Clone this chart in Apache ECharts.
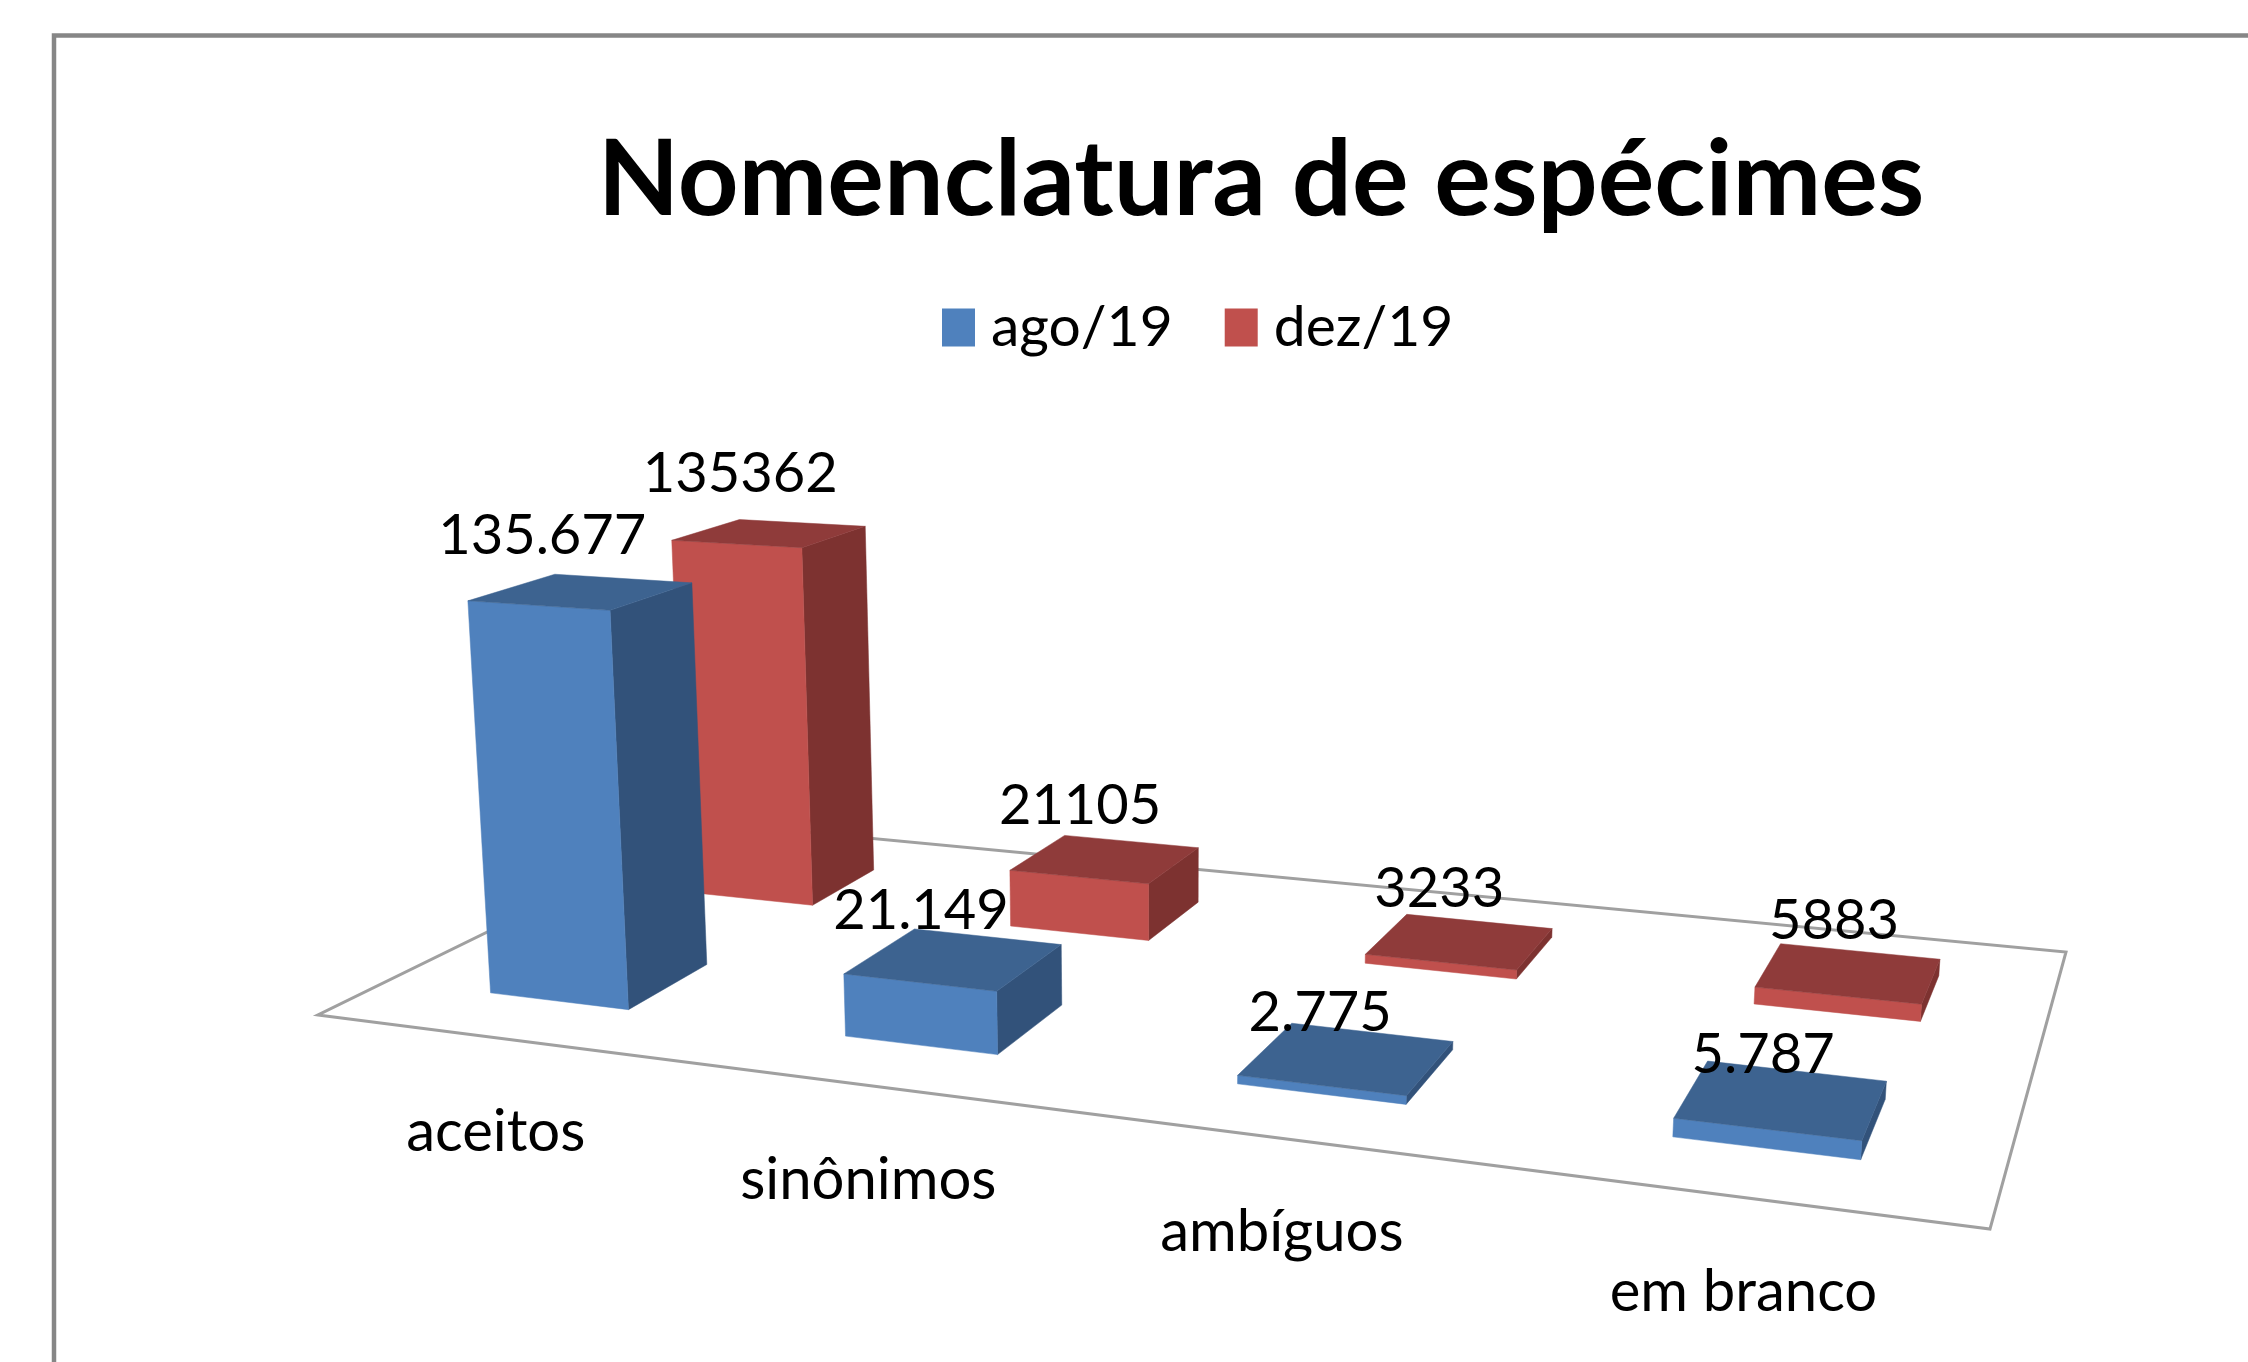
<!DOCTYPE html>
<html>
<head>
<meta charset="utf-8">
<style>
	html, body { margin: 0; padding: 0; background: #fff; overflow: hidden; }
	#bar { width: 2248px; height: 1362px; }
</style>
<script src="https://cdn.jsdelivr.net/npm/echarts@6/dist/echarts.min.js"></script>
</head>
<body>
<div id="bar"></div>
<script>
const categories = ['aceitos', 'sinônimos', 'ambíguos', 'em branco']
const seriesNames = ['ago/19', 'dez/19']
const ago = [135677, 21149, 2775, 5787]
const dez = [135362, 21105, 3233, 5883]
const yMax = 140000

// picture of the floor in the page, the chart is a tilted 3d one
const floorQuad = [[318, 1015], [1990, 1229], [2066, 952], [710, 823]]
const upVanish = [1163, 12617]
const upScale = -0.0344

const bandWidth = 0.4
const blueShift = 0.0015
const redShift = 0.0035
const blueDepth = [0.15, 0.35]
const redDepth = [0.645, 0.84]

const blueFaces = { front: '#4f81bd', side: '#32527a', top: '#3d6390' }
const redFaces = { front: '#c0504d', side: '#7d3230', top: '#8f3b3a' }
const labelFont = '56px Lato'
const categoryFont = '58px Lato'

// square to quad homography
function makeFloor(q) {
	let dx1 = q[1][0] - q[2][0], dx2 = q[3][0] - q[2][0], sx = q[0][0] - q[1][0] + q[2][0] - q[3][0]
	let dy1 = q[1][1] - q[2][1], dy2 = q[3][1] - q[2][1], sy = q[0][1] - q[1][1] + q[2][1] - q[3][1]
	let det = dx1 * dy2 - dx2 * dy1
	let g = (sx * dy2 - dx2 * sy) / det
	let h = (dx1 * sy - sx * dy1) / det
	return {
		a: q[1][0] - q[0][0] + g * q[1][0], b: q[3][0] - q[0][0] + h * q[3][0], c: q[0][0],
		d: q[1][1] - q[0][1] + g * q[1][1], e: q[3][1] - q[0][1] + h * q[3][1], f: q[0][1],
		g: g, h: h
	}
}
const floor = makeFloor(floorQuad)

// s along the categories 0..1, t into the depth 0..1, up is value / axis max
function project(s, t, up) {
	let q = up * upScale
	let w = floor.g * s + floor.h * t + 1 + q
	return [
		(floor.a * s + floor.b * t + floor.c + q * upVanish[0]) / w,
		(floor.d * s + floor.e * t + floor.f + q * upVanish[1]) / w
	]
}

function renderFloor(params, api) {
	let sys = params.coordSys
	let i = api.value(0)
	let pt = api.coord([i, 0])
	let s = (pt[0] - sys.x) / sys.width
	let p = project(s, 0, 0)
	let children = [{
		type: 'text',
		x: p[0] + 5,
		y: p[1] + 95,
		style: { text: categories[i], font: categoryFont, fill: '#000', align: 'center', verticalAlign: 'middle' }
	}]
	if (params.dataIndex === 0) {
		children.push({
			type: 'polygon',
			shape: { points: [project(0, 0, 0), project(1, 0, 0), project(1, 1, 0), project(0, 1, 0)] },
			style: { fill: 'none', stroke: '#a0a0a0', lineWidth: 3 }
		})
	}
	return { type: 'group', children: children }
}

function makeRender(depth, shift, faces, formatLabel) {
	return function (params, api) {
		let sys = params.coordSys
		let i = api.value(0)
		let v = api.value(1)
		let base = api.coord([i, 0])
		let top = api.coord([i, v])
		let band = api.size([1, 0])[0] * bandWidth
		let s0 = (base[0] - band / 2 - sys.x) / sys.width + shift
		let s1 = (base[0] + band / 2 - sys.x) / sys.width + shift
		let up = (base[1] - top[1]) / sys.height
		let t0 = depth[0], t1 = depth[1]
		let poly = (points, fill) => ({ type: 'polygon', shape: { points: points }, style: { fill: fill, stroke: fill, lineWidth: 0.5 } })
		let anchor = project((s0 + s1) / 2, t0, up)
		return {
			type: 'group',
			children: [
				poly([project(s1, t0, 0), project(s1, t1, 0), project(s1, t1, up), project(s1, t0, up)], faces.side),
				poly([project(s0, t0, 0), project(s1, t0, 0), project(s1, t0, up), project(s0, t0, up)], faces.front),
				poly([project(s0, t0, up), project(s1, t0, up), project(s1, t1, up), project(s0, t1, up)], faces.top),
				{
					type: 'text',
					z2: 100,
					x: anchor[0] + 4 - 2.5 * i,
					y: anchor[1] - 70 - 1.4 * i,
					style: { text: formatLabel(v), font: labelFont, fill: '#000', align: 'center', verticalAlign: 'middle' }
				}
			]
		}
	}
}

let myChart = echarts.init(document.getElementById('bar'))
let option = {
	animation: false,
	backgroundColor: '#fff',
	title: {
		text: 'Nomenclatura de espécimes',
		left: 1261,
		top: 128,
		padding: 0,
		textAlign: 'center',
		textStyle: { fontFamily: 'Lato', fontWeight: 'bold', fontSize: 106, color: '#000' }
	},
	legend: {
		data: seriesNames,
		left: 942,
		top: 299,
		padding: 0,
		icon: 'rect',
		itemWidth: 33,
		itemHeight: 38,
		itemGap: 52,
		textStyle: { fontFamily: 'Lato', fontSize: 57, color: '#000', padding: [0, 0, 0, 11] }
	},
	grid: { left: 100, right: 100, top: 400, bottom: 100 },
	xAxis: { type: 'category', data: categories, show: false },
	yAxis: { type: 'value', min: 0, max: yMax, interval: 20000, show: false },
	graphic: [{
		type: 'rect',
		shape: { x: 54, y: 35.5, width: 2400, height: 1500 },
		style: { fill: 'none', stroke: '#868686', lineWidth: 4.5 },
		silent: true
	}],
	series: [{
		name: seriesNames[0],
		type: 'custom',
		z: 4,
		itemStyle: { color: blueFaces.front },
		renderItem: makeRender(blueDepth, blueShift, blueFaces, v => String(v).replace(/\B(?=(\d{3})+$)/g, '.')),
		data: ago.map((v, i) => [i, v])
	}, {
		name: seriesNames[1],
		type: 'custom',
		z: 3,
		itemStyle: { color: redFaces.front },
		renderItem: makeRender(redDepth, redShift, redFaces, v => String(v)),
		data: dez.map((v, i) => [i, v])
	}, {
		name: 'floor',
		type: 'custom',
		z: 2,
		silent: true,
		renderItem: renderFloor,
		data: categories.map((c, i) => [i, 0])
	}]
}
myChart.setOption(option)
</script>
</body>
</html>
